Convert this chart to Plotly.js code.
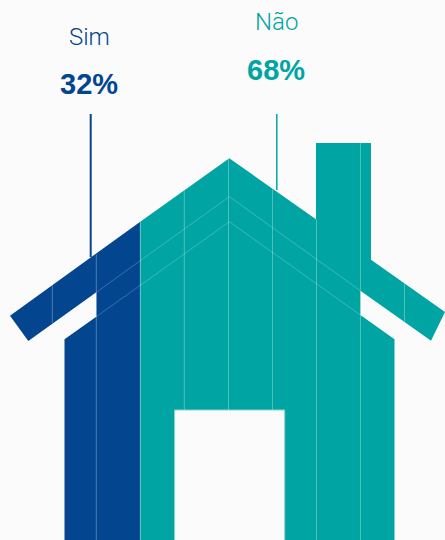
<!DOCTYPE html>
<html>
<head>
<meta charset="utf-8">
<script src="https://cdn.plot.ly/plotly-3.0.1.min.js"></script>
<style>html,body{margin:0;padding:0;background:#fbfbfb}#chart{width:445px;height:540px}</style>
</head>
<body>
<div id="chart"></div>
<script>
// Answers and their shares, in percent
const categories = ['Sim', 'Não'];
const shares = [32, 68];
const colors = ['#03468f', '#00a5a3'];
const background = '#fbfbfb';

// Position of the boundary between the two answers along the house
const scaleStart = 10;
const scaleSpan = 407;
const splitX = scaleStart + shares[0] / 100 * scaleSpan;

// House silhouette, left part
const simX = [10, splitX, splitX, 64.5, 64.5, 96.3, 96.3, 28.3];
const simY = [315.7, 221.7, 540, 540, 339.3, 316.7, 292.3, 341];

// House silhouette, right part with the chimney
const naoX = [splitX, 229.3, 316, 316, 371, 371, 445, 431, 360.4, 360.4, 394.5, 394.5, splitX];
const naoY = [221.7, 158.3, 219.3, 143, 143, 259.7, 312, 340.7, 290.7, 315, 339.3, 540, 540];

// Doorway
const doorX = [174.5, 174.5, 284.7, 284.7];
const doorY = [541, 410, 410, 541];

// Vertical column rules: x, top, bottom
const ruleX = [52.3, 96.3, splitX, 184.3, 228.5, 272.5, 316.5, 360.5, 360.5, 404.5];
const ruleTop = [285, 254.3, 221.7, 190.7, 158.3, 189.3, 219.3, 143, 315, 283.3];
const ruleBottom = [322.7, 540, 540, 410, 410, 410, 540, 290.7, 540, 321.7];

// Two roof-shaped rules inside the house
const upperChevronX = [96.3, 229.3, 360.4];
const upperChevronY = [292.3, 196.7, 290.7];
const lowerChevronX = [96.3, 229.3, 360.4];
const lowerChevronY = [316.7, 221.7, 315];

// Leader lines from the labels down to the roof
const leaderX = [90.7, 276.8];
const leaderTop = [114, 114];
const leaderBottom = [257, 190];

// Label placement
const nameX = [89.5, 276];
const nameY = [37, 21.5];
const shareX = [89, 276];
const shareY = [84, 70];

const fillTrace = (x, y, color) => ({
  x, y, type: 'scatter', mode: 'lines', fill: 'toself',
  fillcolor: color, line: {width: 0, color: color}, hoverinfo: 'skip', showlegend: false
});

const ruleXs = [], ruleYs = [];
ruleX.forEach((x, i) => {
  ruleXs.push(x, x, null);
  ruleYs.push(ruleTop[i], ruleBottom[i], null);
});

const traces = [
  fillTrace(simX, simY, colors[0]),
  fillTrace(naoX, naoY, colors[1]),
  {x: upperChevronX, y: upperChevronY, type: 'scatter', mode: 'lines',
   line: {width: 0.7, color: 'rgba(255,255,255,0.32)'}, hoverinfo: 'skip', showlegend: false},
  {x: lowerChevronX, y: lowerChevronY, type: 'scatter', mode: 'lines',
   line: {width: 0.7, color: 'rgba(255,255,255,0.32)'}, hoverinfo: 'skip', showlegend: false},
  {x: ruleXs, y: ruleYs, type: 'scatter', mode: 'lines', connectgaps: false,
   line: {width: 1, color: 'rgba(255,255,255,0.3)'}, hoverinfo: 'skip', showlegend: false},
  {x: doorX, y: doorY, type: 'scatter', mode: 'lines', fill: 'toself', fillcolor: background,
   line: {width: 1, color: '#86d3d1'}, hoverinfo: 'skip', showlegend: false}
];

leaderX.forEach((x, i) => {
  traces.push({x: [x, x], y: [leaderTop[i], leaderBottom[i]], type: 'scatter', mode: 'lines',
    line: {width: i === 0 ? 2 : 1.5, color: colors[i]}, hoverinfo: 'skip', showlegend: false});
});

const annotations = [];
categories.forEach((name, i) => {
  annotations.push({x: nameX[i], y: nameY[i], xref: 'x', yref: 'y', text: name, showarrow: false,
    xanchor: 'center', yanchor: 'middle',
    font: {family: 'Roboto, sans-serif', size: 24, weight: 300, color: colors[i]}});
  annotations.push({x: shareX[i], y: shareY[i], xref: 'x', yref: 'y', text: shares[i] + '%', showarrow: false,
    xanchor: 'center', yanchor: 'middle',
    font: {family: '"Liberation Sans", Arial, sans-serif', size: 29, weight: 700, color: colors[i]}});
});

const layout = {
  width: 445, height: 540,
  margin: {l: 0, r: 0, t: 0, b: 0},
  paper_bgcolor: background, plot_bgcolor: background,
  showlegend: false,
  xaxis: {range: [0, 445], visible: false, fixedrange: true},
  yaxis: {range: [540, 0], visible: false, fixedrange: true},
  annotations
};

Plotly.newPlot('chart', traces, layout, {staticPlot: true, displayModeBar: false});
</script>
</body>
</html>
